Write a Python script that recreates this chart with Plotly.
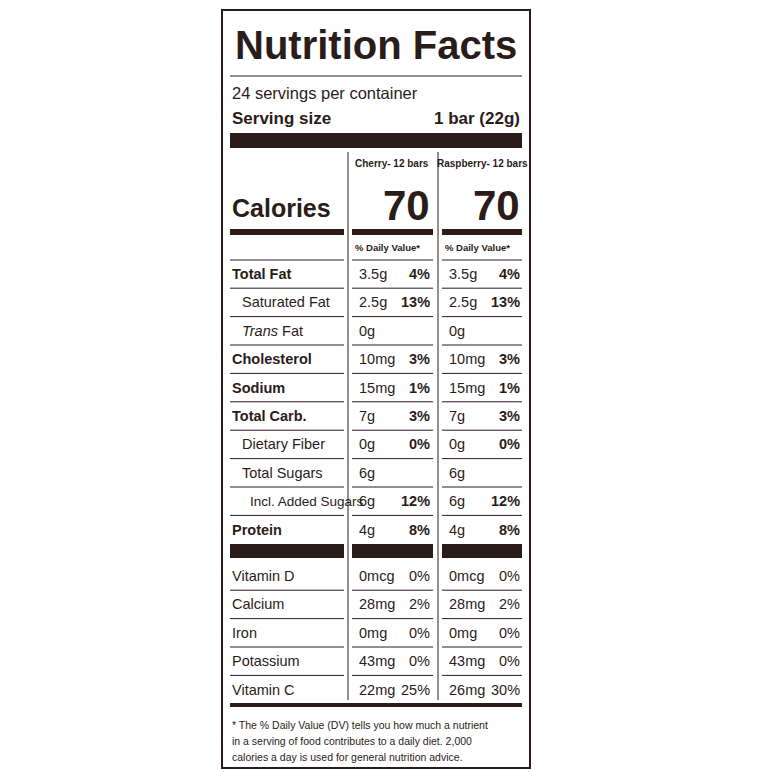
import plotly.graph_objects as go

INK = "#2a1c19"
FONT = "Liberation Sans Narrow, Liberation Sans, Arial, sans-serif"

title = "Nutrition Facts"
servings = "24 servings per container"
serving_size = ("Serving size", "1 bar (22g)")
products = ["Cherry- 12 bars", "Raspberry- 12 bars"]
calories = [70, 70]

nutrients = ["Total Fat", "Saturated Fat", "<i>Trans</i> Fat", "Cholesterol", "Sodium",
             "Total Carb.", "Dietary Fiber", "Total Sugars", "Incl. Added Sugars", "Protein"]
nutrient_bold = [True, False, False, True, True, True, False, False, False, True]
nutrient_indent = [0, 1, 1, 0, 0, 0, 1, 1, 2, 0]
cherry_amt = ["3.5g", "2.5g", "0g", "10mg", "15mg", "7g", "0g", "6g", "6g", "4g"]
cherry_dv = ["4%", "13%", "", "3%", "1%", "3%", "0%", "", "12%", "8%"]
rasp_amt = ["3.5g", "2.5g", "0g", "10mg", "15mg", "7g", "0g", "6g", "6g", "4g"]
rasp_dv = ["4%", "13%", "", "3%", "1%", "3%", "0%", "", "12%", "8%"]

vitamins = ["Vitamin D", "Calcium", "Iron", "Potassium", "Vitamin C"]
cherry_vamt = ["0mcg", "28mg", "0mg", "43mg", "22mg"]
cherry_vdv = ["0%", "2%", "0%", "0%", "25%"]
rasp_vamt = ["0mcg", "28mg", "0mg", "43mg", "26mg"]
rasp_vdv = ["0%", "2%", "0%", "0%", "30%"]

footnote = ["* The % Daily Value (DV) tells you how much a nutrient",
            "in a serving of food contributes to a daily diet. 2,000",
            "calories a day is used for general nutrition advice."]

L, R = 230, 522
C1, C1R = 357, 432
C2, C2R = 447, 522
segs = [(230, 344), (352, 433), (442, 522)]
ROW0, ROWH = 274, 28.4
VROW0 = 576
FS = 14.5

shapes, ann = [], []

def line(x0, y0, x1, y1, w=1):
    shapes.append(dict(type="line", x0=x0, y0=y0, x1=x1, y1=y1, line=dict(color=INK, width=w)))

def rect(x0, y0, x1, y1):
    shapes.append(dict(type="rect", x0=x0, y0=y0, x1=x1, y1=y1, fillcolor=INK, line=dict(width=0)))

def text(x, y, s, size, bold=False, anchor="left"):
    if bold:
        s = "<b>" + s + "</b>"
    ann.append(dict(x=x, y=y, text=s, showarrow=False, xanchor=anchor, yanchor="middle",
                    font=dict(family=FONT, size=size, color=INK)))

shapes.append(dict(type="rect", x0=222, y0=10, x1=530, y1=768, line=dict(color=INK, width=2)))
text(376, 45, title, 40, True, "center")
line(L, 76, R, 76, 1)
text(L, 93, servings, 16.5)
text(L, 118, serving_size[0], 17, True)
text(R, 118, serving_size[1], 17, True, "right")
rect(L, 133, R, 148)

line(348, 152, 348, 700, 1)
line(438, 152, 438, 700, 1)
for i, p in enumerate(products):
    cx = [392, 482][i]
    text(cx, 163, p, 10, True, "center")
    text([C1R, C2R][i], 205, str(calories[i]), 42, True, "right")
text(L, 208, "Calories", 25, True)
for a, b in segs:
    rect(a, 229, b, 235)
for a, b in segs[1:]:
    text(a + 1, 247, "% Daily Value*", 9.5, True)

for a, b in segs:
    line(a, 260, b, 260, 1)
for i, n in enumerate(nutrients):
    y = ROW0 + i * ROWH
    if i > 0:
        for a, b in segs:
            line(a, y - ROWH / 2, b, y - ROWH / 2, 1)
    text(L + [0, 10, 18][nutrient_indent[i]], y, n, FS - (1 if nutrient_indent[i] == 2 else 0), nutrient_bold[i])
    text(C1, y, cherry_amt[i], FS)
    text(C1R, y, cherry_dv[i], FS, True, "right")
    text(C2, y, rasp_amt[i], FS)
    text(C2R, y, rasp_dv[i], FS, True, "right")

for a, b in segs:
    rect(a, 544, b, 558)

for i, v in enumerate(vitamins):
    y = VROW0 + i * ROWH
    if i > 0:
        for a, b in segs:
            line(a, y - ROWH / 2, b, y - ROWH / 2, 1)
    text(L, y, v, FS)
    text(C1, y, cherry_vamt[i], FS)
    text(C1R, y, cherry_vdv[i], FS, False, "right")
    text(C2, y, rasp_vamt[i], FS)
    text(C2R, y, rasp_vdv[i], FS, False, "right")

rect(L, 703, R, 707)
for i, f in enumerate(footnote):
    text(L, 725 + i * 16, f, 10.5)

fig = go.Figure()
fig.update_layout(width=772, height=772, margin=dict(l=0, r=0, t=0, b=0),
                  paper_bgcolor="white", plot_bgcolor="white",
                  xaxis=dict(range=[8, 780], visible=False, fixedrange=True),
                  yaxis=dict(range=[780, 8], visible=False, fixedrange=True),
                  shapes=shapes, annotations=ann, showlegend=False)
fig.write_html("out.html")
